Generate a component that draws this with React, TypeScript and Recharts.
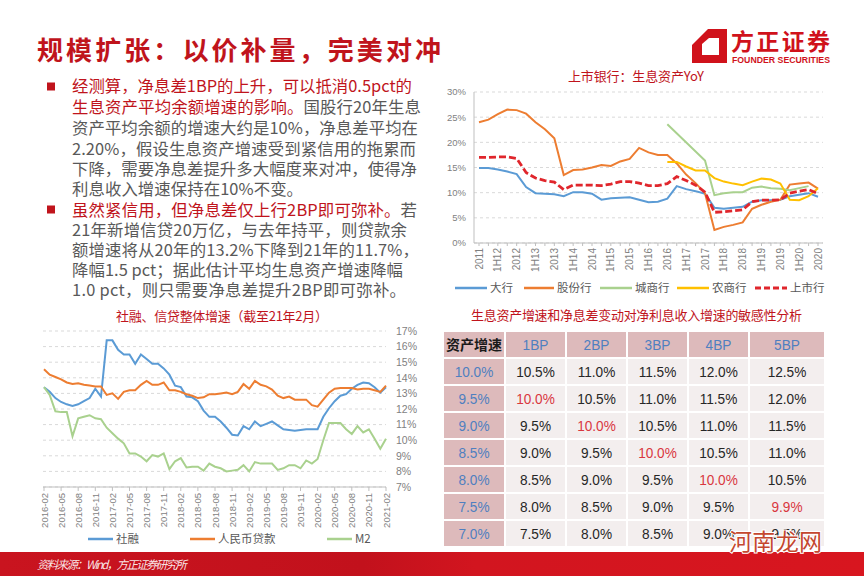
import { LineChart, Line, XAxis, YAxis, CartesianGrid } from 'recharts'

const CJK = '"Noto Sans CJK SC", "Noto Sans", sans-serif'
const LAT = '"Liberation Sans", Arial, "Noto Sans CJK SC", sans-serif'
const RED = '#C0141C'
const TXT = '#595959'
const AX = '#7f7f7f'

// 上市银行：生息资产YoY (quarterly)
const quarters = [
    '2011', '1Q12', '1H12', '3Q12', '2012', '1Q13', '1H13', '3Q13', '2013',
    '1Q14', '1H14', '3Q14', '2014', '1Q15', '1H15', '3Q15', '2015',
    '1Q16', '1H16', '3Q16', '2016', '1Q17', '1H17', '3Q17', '2017',
    '1Q18', '1H18', '3Q18', '2018', '1Q19', '1H19', '3Q19', '2019',
    '1Q20', '1H20', '3Q20', '2020',
]
const bigBank = [14.9, 14.9, 14.6, 14.2, 13.7, 11.1, 9.9, 9.8, 9.7, 9.3, 10.1, 10.1, 9.8, 8.6, 8.9, 9.0, 9.1, 8.6, 8.1, 8.2, 8.8, 11.3, 10.7, 10.3, 9.8, 7.0, 6.8, 7.0, 7.2, 8.2, 8.5, 8.5, 8.6, 9.3, 9.6, 9.9, 9.2]
const jointStock = [24.0, 24.5, 25.6, 26.5, 26.4, 25.7, 24.0, 22.6, 20.8, 13.5, 14.5, 14.6, 15.0, 15.5, 15.3, 16.2, 16.7, 18.9, 18.0, 17.5, 17.5, 15.8, 13.6, 11.9, 9.9, 2.6, 3.2, 3.6, 4.1, 6.8, 7.6, 8.2, 8.6, 11.6, 11.8, 12.0, 10.8]
const cityBank = [null, null, null, null, null, null, null, null, null, null, null, null, null, null, null, null, null, null, null, null, 23.6, null, null, null, 16.4, 9.5, 9.9, 10.1, 10.1, 11.0, 11.2, 10.9, 10.8, 10.5, 10.9, 11.3, null]
const ruralBank = [null, null, null, null, null, null, null, null, null, null, null, null, null, null, null, null, null, null, null, null, 16.1, 16.1, 15.2, 14.4, 14.4, 12.9, 12.2, 11.8, 11.5, 12.2, 12.8, 12.6, 11.8, 8.6, 8.5, 9.3, 10.9]
const listedBank = [17.0, 17.0, 17.1, 17.1, 16.8, 14.0, 12.9, 12.4, 12.1, 10.6, 11.5, 11.5, 11.5, 11.4, 11.7, 12.2, 12.2, 11.9, 11.4, 11.4, 11.8, 13.2, 12.4, 11.5, 10.1, 6.1, 6.2, 6.4, 6.6, 8.2, 8.5, 8.5, 8.6, 9.9, 10.3, 10.6, 9.8]
const bankTicks = [0, 5, 10, 15, 20, 25, 30]

// 社融、信贷整体增速 (monthly)
const months = [
    '2016-02', '2016-03', '2016-04', '2016-05', '2016-06', '2016-07', '2016-08', '2016-09', '2016-10', '2016-11', '2016-12',
    '2017-01', '2017-02', '2017-03', '2017-04', '2017-05', '2017-06', '2017-07', '2017-08', '2017-09', '2017-10', '2017-11', '2017-12',
    '2018-01', '2018-02', '2018-03', '2018-04', '2018-05', '2018-06', '2018-07', '2018-08', '2018-09', '2018-10', '2018-11', '2018-12',
    '2019-01', '2019-02', '2019-03', '2019-04', '2019-05', '2019-06', '2019-07', '2019-08', '2019-09', '2019-10', '2019-11', '2019-12',
    '2020-01', '2020-02', '2020-03', '2020-04', '2020-05', '2020-06', '2020-07', '2020-08', '2020-09', '2020-10', '2020-11', '2020-12',
    '2021-01', '2021-02',
]
const tsf = [13.4, 13.1, 12.7, 12.45, 12.3, 12.2, 12.3, 12.5, 12.7, 13.3, 12.8, 16.4, 16.4, 15.8, 15.5, 15.5, 14.9, 15.5, 15.2, 14.9, 14.9, 14.6, 14.2, 13.5, 13.4, 12.8, 12.75, 12.5, 11.9, 11.5,
    11.5, 11.2, 10.8, 10.35, 10.3, 10.9, 10.7, 11.2, 10.9, 11.05, 11.2, 10.95, 10.7, 10.65, 10.6, 10.65, 10.7, 10.7, 10.7, 11.5, 12.05, 12.5, 12.85, 12.95, 13.3, 13.55, 13.7, 13.65, 13.4, 13.05, 13.4]
const rmbLoan = [14.55, 14.2, 14.05, 13.9, 13.7, 13.6, 13.65, 13.55, 13.5, 13.45, 13.45, 12.9, 13.0, 12.65, 13.1, 13.2, 13.2, 13.55, 13.8, 13.55, 13.55, 13.7, 13.2, 13.2, 13.1, 12.95, 12.85, 12.7, 12.75, 12.95,
    12.95, 13.0, 13.05, 12.95, 13.1, 13.6, 13.3, 13.8, 13.55, 13.45, 13.25, 12.85, 12.7, 12.8, 12.6, 12.6, 12.6, 12.25, 12.15, 12.6, 13.05, 13.3, 13.35, 13.35, 13.35, 13.25, 13.3, 13.3, 13.2, 13.1, 13.5]
const m2 = [13.4, 12.9, 11.85, 11.8, 11.8, 10.25, 11.4, 11.5, 11.6, 11.4, 11.35, 10.8, 10.45, 10.1, 9.8, 9.15, 9.15, 8.95, 8.65, 9.05, 8.95, 9.15, 8.15, 8.65, 8.85, 8.25, 8.3, 8.3, 8.05, 8.5,
    8.3, 8.2, 8.0, 8.05, 8.1, 8.4, 8.0, 8.6, 8.5, 8.5, 8.5, 8.1, 8.2, 8.4, 8.4, 8.2, 8.7, 8.5, 8.8, 10.0, 11.1, 11.1, 11.1, 10.7, 10.4, 10.9, 10.5, 10.7, 10.1, 9.45, 10.1]
const creditTicks = [7, 8, 9, 10, 11, 12, 13, 14, 15, 16, 17]

// 敏感性分析表
const assetGrowth = ['10.0%', '9.5%', '9.0%', '8.5%', '8.0%', '7.5%', '7.0%']
const bpHeads = ['1BP', '2BP', '3BP', '4BP', '5BP']
const niiGrowth = [
    ['10.5%', '11.0%', '11.5%', '12.0%', '12.5%'],
    ['10.0%', '10.5%', '11.0%', '11.5%', '12.0%'],
    ['9.5%', '10.0%', '10.5%', '11.0%', '11.5%'],
    ['9.0%', '9.5%', '10.0%', '10.5%', '11.0%'],
    ['8.5%', '9.0%', '9.5%', '10.0%', '10.5%'],
    ['8.0%', '8.5%', '9.0%', '9.5%', '9.9%'],
    ['7.5%', '8.0%', '8.5%', '9.0%', '9.5%'],
]
const hiCells = ['1-0', '2-1', '3-2', '4-3', '5-4']

const bodyLines = [
    [['经测算，净息差1BP的上升，可以抵消0.5pct的', RED]],
    [['生息资产平均余额增速的影响。', RED], ['国股行20年生息', TXT]],
    [['资产平均余额的增速大约是10%，净息差平均在', TXT]],
    [['2.20%，假设生息资产增速受到紧信用的拖累而', TXT]],
    [['下降，需要净息差提升多大幅度来对冲，使得净', TXT]],
    [['利息收入增速保持在10%不变。', TXT]],
    [['虽然紧信用，但净息差仅上行2BP即可弥补。', RED], ['若', TXT]],
    [['21年新增信贷20万亿，与去年持平，则贷款余', TXT]],
    [['额增速将从20年的13.2%下降到21年的11.7%，', TXT]],
    [['降幅1.5 pct；据此估计平均生息资产增速降幅', TXT]],
    [['1.0 pct，则只需要净息差提升2BP即可弥补。', TXT]],
]
const lineY = [91.5, 113, 134, 154.5, 175, 194.5, 216, 236, 256, 276, 296]
const lineW = [340, 349, 346, 344, 345, 231, 345, 335, 347, 331, 334]

const bankData = quarters.map((q, i) => ({
    q,
    big: bigBank[i],
    js: jointStock[i],
    city: cityBank[i],
    rural: ruralBank[i],
    listed: listedBank[i],
}))
const creditData = months.map((m, i) => ({ m, tsf: tsf[i], loan: rmbLoan[i], m2: m2[i] }))

function VTick(props: any) {
    const { x, y, payload, every, fontSize } = props
    if (every && quarters.indexOf(payload.value) % every !== 0) return null
    return (
        <text
            x={x}
            y={y}
            transform={`rotate(-90 ${x} ${y})`}
            textAnchor="end"
            dominantBaseline="central"
            fontSize={fontSize}
            fontFamily={LAT}
            fill={AX}
        >
            {payload.value}
        </text>
    )
}

function LegendItem({ x, y, w, color, text, dash, sw = 2.5 }: any) {
    return (
        <g>
            <line x1={x} x2={x + w} y1={y} y2={y} stroke={color} strokeWidth={sw} strokeDasharray={dash} />
            <text x={x + w + 3} y={y + 4} fontSize={11.5} fontFamily={CJK} fill={TXT}>{text}</text>
        </g>
    )
}

function Overlay() {
    const colX = [444, 506, 567, 628, 689, 750]
    const colW = [60, 59, 59, 59, 59, 74]
    const rowY = (r: number) => (r === 0 ? 332 : 359 + (r - 1) * 27)
    const cells: any[] = []
    for (let r = 0; r < 8; r++) {
        for (let c = 0; c < 6; c++) {
            const head = r === 0 || c === 0
            let label = ''
            let color = '#262626'
            let bold = false
            if (r === 0 && c === 0) { label = '资产增速'; bold = true; color = '#1a1a1a' }
            else if (r === 0) { label = bpHeads[c - 1]; color = '#4F7FC0' }
            else if (c === 0) { label = assetGrowth[r - 1]; color = '#4F7FC0' }
            else {
                label = niiGrowth[r - 1][c - 1]
                if (hiCells.includes(`${r - 1}-${c - 1}`)) color = '#D9363E'
            }
            const cx = colX[c] + colW[c] / 2
            const cy = rowY(r) + 12.5
            cells.push(
                <g key={`${r}-${c}`}>
                    <rect x={colX[c]} y={rowY(r)} width={colW[c]} height={25} fill={head ? '#DDBABB' : '#F3EEEE'} />
                    <text
                        transform={`translate(${cx} ${cy + 5.5}) scale(${bold ? 1 : 0.88} 1)`}
                        textAnchor="middle"
                        fontSize={bold ? 14 : 15.5}
                        fontWeight={bold ? 700 : 400}
                        fontFamily={bold ? CJK : LAT}
                        fill={color}
                    >
                        {label}
                    </text>
                </g>,
            )
        }
    }

    return (
        <svg width={864} height={576} style={{ position: 'absolute', left: 0, top: 0 }}>
            <defs>
                <linearGradient id="foot" x1="0" x2="1" y1="0" y2="0">
                    <stop offset="0" stopColor="#C9141F" />
                    <stop offset="0.42" stopColor="#C2111C" />
                    <stop offset="0.55" stopColor="#D2151F" />
                    <stop offset="1" stopColor="#D8161F" />
                </linearGradient>
            </defs>

            <text x={37} y={60} fontSize={26} fontWeight={700} fontFamily={CJK} fill={RED} textLength={404}>
                规模扩张：以价补量，完美对冲
            </text>

            {/* logo */}
            <path d="M692 45 L708 29 L727 29 L727 63 L692 63 Z" fill="#D0121B" />
            <path d="M702 44 L709 38 L719 38 L719 55 L702 55 Z" fill="#fff" />
            <text x={731} y={49.5} fontSize={23} fontWeight={700} fontFamily={CJK} fill="#D0121B" textLength={99}>方正证券</text>
            <text x={732} y={62.5} fontSize={8.3} fontWeight={700} fontFamily={LAT} fill="#D0121B" textLength={98} lengthAdjust="spacingAndGlyphs">
                FOUNDER SECURITIES
            </text>

            {/* bullets */}
            <rect x={47} y={82.5} width={8} height={8} fill={RED} />
            <rect x={47} y={205.5} width={8} height={8} fill={RED} />
            {bodyLines.map((segs, i) => (
                <text key={i} x={72} y={lineY[i]} fontSize={16.4} fontFamily={CJK} textLength={lineW[i]}>
                    {segs.map((s, j) => (
                        <tspan key={j} fill={s[1]}>{s[0]}</tspan>
                    ))}
                </text>
            ))}

            {/* chart titles */}
            <text x={568} y={81} fontSize={13} fontFamily={CJK} fill={RED} textLength={136}>上市银行：生息资产YoY</text>
            <text x={116} y={321} fontSize={13} fontFamily={CJK} fill={RED} textLength={212}>社融、信贷整体增速（截至21年2月）</text>
            <text x={471} y={320} fontSize={13} fontFamily={CJK} fill={RED} textLength={331}>生息资产增速和净息差变动对净利息收入增速的敏感性分析</text>

            {/* legends */}
            <LegendItem x={455} y={288} w={32} color="#5B9BD5" text="大行" />
            <LegendItem x={524} y={288} w={30} color="#ED7D31" text="股份行" />
            <LegendItem x={600} y={288} w={32} color="#A9D18E" text="城商行" />
            <LegendItem x={677} y={288} w={32} color="#FFC000" text="农商行" />
            <LegendItem x={755} y={288} w={32} color="#E0262C" text="上市行" dash="6 3" sw={3} />

            <LegendItem x={88} y={539} w={25} color="#5B9BD5" text="社融" />
            <LegendItem x={190} y={539} w={25} color="#ED7D31" text="人民币贷款" />
            <LegendItem x={327} y={539} w={25} color="#A9D18E" text="M2" />

            {/* table */}
            {cells}

            {/* footer */}
            <rect x={0} y={552} width={864} height={24} fill="url(#foot)" />
            <text x={37} y={569} fontSize={11.5} fontStyle="italic" fontFamily={CJK} fill="#fff" fillOpacity={0.9} textLength={150}>
                资料来源：Wind，方正证券研究所
            </text>

            {/* watermark */}
            <text x={729} y={550} fontSize={23} fontFamily={CJK} fill="#C4472F" stroke="#fff" strokeWidth={2} paintOrder="stroke" textLength={93}>
                河南龙网
            </text>
        </svg>
    )
}

export default function App() {
    return (
        <div style={{ position: 'absolute', left: 0, top: 0, width: 864, height: 576, background: '#fff', overflow: 'hidden' }}>
            <Overlay />

            <div style={{ position: 'absolute', left: 440, top: 85 }}>
                <LineChart width={390} height={190} data={bankData} margin={{ top: 7, right: 7, bottom: 0, left: 0 }}>
                    <CartesianGrid vertical={false} stroke="#D9D9D9" strokeDasharray="3 3" />
                    <XAxis
                        dataKey="q"
                        interval={0}
                        height={32}
                        padding={{ left: 5, right: 5 }}
                        stroke="#BFBFBF"
                        tickSize={3}
                        tick={<VTick every={2} fontSize={10} />}
                    />
                    <YAxis
                        width={34}
                        domain={[0, 30]}
                        ticks={bankTicks}
                        interval={0}
                        tickFormatter={(v) => `${v}%`}
                        stroke="#BFBFBF"
                        tickLine={false}
                        tick={{ fill: AX, fontSize: 9.5, fontFamily: LAT }}
                    />
                    <Line dataKey="big" stroke="#5B9BD5" strokeWidth={2} dot={false} isAnimationActive={false} />
                    <Line dataKey="js" stroke="#ED7D31" strokeWidth={2} dot={false} isAnimationActive={false} />
                    <Line dataKey="city" stroke="#A9D18E" strokeWidth={2} dot={false} connectNulls isAnimationActive={false} />
                    <Line dataKey="rural" stroke="#FFC000" strokeWidth={2} dot={false} isAnimationActive={false} />
                    <Line dataKey="listed" stroke="#E0262C" strokeWidth={2.8} strokeDasharray="7 3" dot={false} isAnimationActive={false} />
                </LineChart>
            </div>

            <div style={{ position: 'absolute', left: 0, top: 320 }}>
                <LineChart width={420} height={209} data={creditData} margin={{ top: 11, right: 0, bottom: 0, left: 43 }}>
                    <CartesianGrid vertical={false} yAxisId="r" stroke="#D9D9D9" strokeDasharray="3 3" />
                    <XAxis
                        dataKey="m"
                        interval={2}
                        height={42}
                        padding={{ left: 1, right: 0 }}
                        stroke="#BFBFBF"
                        tickSize={4}
                        tick={<VTick fontSize={9.5} />}
                    />
                    <YAxis yAxisId="l" orientation="left" width={0} domain={[7, 17]} ticks={creditTicks} tick={false} tickLine={false} stroke="#BFBFBF" />
                    <YAxis
                        yAxisId="r"
                        orientation="right"
                        width={34}
                        domain={[7, 17]}
                        ticks={creditTicks}
                        interval={0}
                        tickFormatter={(v) => `${v}%`}
                        axisLine={false}
                        tickLine={false}
                        tickMargin={4}
                        tick={{ fill: AX, fontSize: 10.5, fontFamily: LAT, textAnchor: 'start' }}
                    />
                    <Line yAxisId="r" dataKey="tsf" stroke="#5B9BD5" strokeWidth={2} dot={false} isAnimationActive={false} />
                    <Line yAxisId="r" dataKey="loan" stroke="#ED7D31" strokeWidth={2} dot={false} isAnimationActive={false} />
                    <Line yAxisId="r" dataKey="m2" stroke="#A9D18E" strokeWidth={2} dot={false} isAnimationActive={false} />
                </LineChart>
            </div>
        </div>
    )
}
